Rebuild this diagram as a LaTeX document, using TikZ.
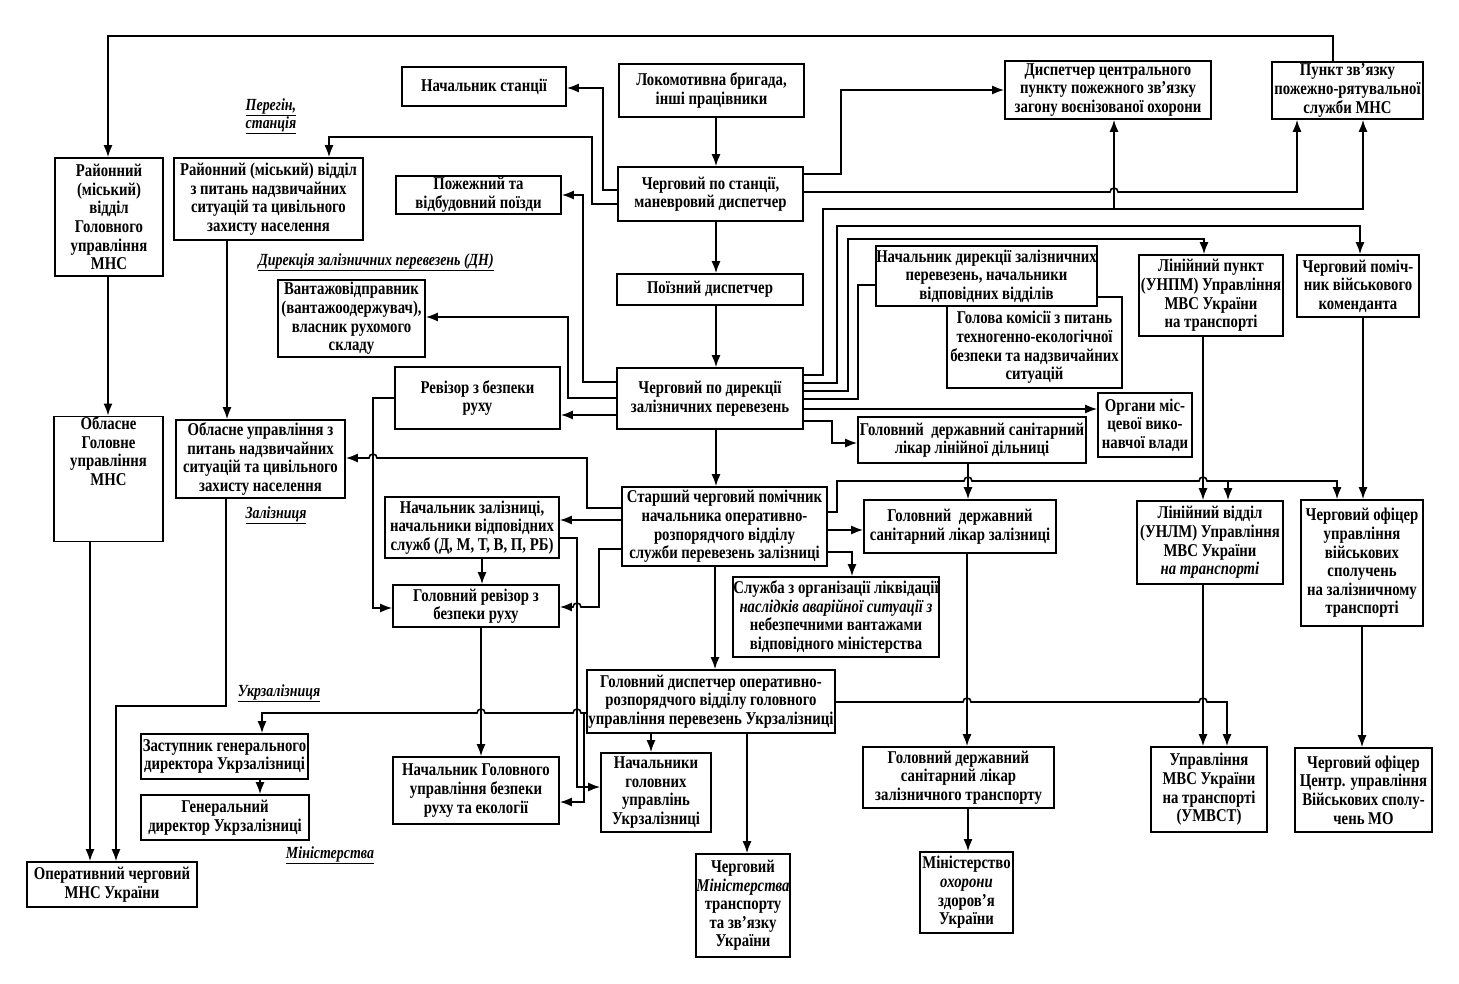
\documentclass[tikz,border=0pt]{standalone}
\usepackage{fontspec}
\setmainfont{Liberation Serif}[FakeStretch=0.82]
\usetikzlibrary{arrows.meta}
\begin{document}
\begin{tikzpicture}[x=1pt,y=-1pt,
 box/.style={draw, line width=1.7pt, fill=white, align=center, inner sep=0.5pt, font=\fontsize{18}{18.6}\selectfont\bfseries},
 txt/.style={align=center, inner sep=0.5pt, font=\fontsize{18}{18.6}\selectfont\bfseries},
 arr/.style={line width=1.6pt, -{Latex[length=12pt,width=9pt]}},
 ln/.style={line width=1.6pt},
 lbl/.style={align=left, inner sep=0pt, font=\fontsize{17}{18}\selectfont\itshape\bfseries}]
\useasboundingbox[fill=white] (0,0) rectangle (1459,984);
\def\hr{4pt}
% ---------- nodes ----------
\node[box, minimum width=164pt, minimum height=39pt] (nachst) at (484,86.5) {Начальник станції};
\node[box, minimum width=185pt, minimum height=53pt] (lokom) at (711.5,90.5) {Локомотивна бригада,\\інші працівники};
\node[box, minimum width=206pt, minimum height=58pt] (disp) at (1108,90) {Диспетчер центрального\\пункту пожежного зв’язку\\загону воєнізованої охорони};
\node[box, minimum width=151pt, minimum height=57pt] (punkt) at (1347.5,90.5) {Пункт зв’язку\\пожежно-рятувальної\\служби МНС};
\node[box, minimum width=108pt, minimum height=118pt] (raimns) at (109,217) {Районний\\(міський)\\відділ\\Головного\\управління\\МНС};
\node[box, minimum width=189pt, minimum height=82pt] (raipit) at (268.5,199) {Районний (міський) відділ\\з питань надзвичайних\\ситуацій та цивільного\\захисту населення};
\node[box, minimum width=165pt, minimum height=38pt] (pozh) at (478.5,195) {Пожежний та\\відбудовний поїзди};
\node[box, minimum width=185pt, minimum height=54pt] (cherst) at (710.5,194) {Черговий по станції,\\маневровий диспетчер};
\node[box, minimum width=186pt, minimum height=31pt] (poizd) at (710,289.5) {Поїзний диспетчер};
\node[box, minimum width=147pt, minimum height=77pt] (vant) at (351.5,318.5) {Вантажовідправник\\(вантажоодержувач),\\власник рухомого\\складу};
\node[box, minimum width=165pt, minimum height=62pt] (reviz) at (477.5,398) {Ревізор з безпеки\\руху};
\node[box, minimum width=186pt, minimum height=61pt] (cherdir) at (710,398.5) {Черговий по дирекції\\залізничних перевезень};
\node[box, minimum width=175pt, minimum height=91pt] (golkom) at (1034.5,342.5) {};
\node[txt, yshift=-5pt] at (golkom) {Голова комісії з питань\\техногенно-екологічної\\безпеки та надзвичайних\\ситуацій};
\node[box, minimum width=219pt, minimum height=60pt] (nachdir) at (986.5,276) {Начальник дирекції залізничних\\перевезень, начальники\\відповідних відділів};
\node[box, minimum width=144pt, minimum height=81pt] (linpunkt) at (1211,295.5) {Лінійний пункт\\(УНПМ) Управління\\МВС України\\на транспорті};
\node[box, minimum width=122pt, minimum height=62pt] (komend) at (1358,286) {Черговий поміч-\\ник військового\\коменданта};
\node[box, minimum width=94pt, minimum height=64pt] (organy) at (1145,425) {Органи міс-\\цевої вико-\\навчої влади};
\node[box, minimum width=228pt, minimum height=46pt] (likarlin) at (972,440) {Головний\ \ державний санітарний\\лікар лінійної дільниці};
\node[box, minimum width=109pt, minimum height=118pt] (oblmns) at (108.5,479) {Обласне\\Головне\\управління\\МНС\\[37pt]};
\node[box, minimum width=169pt, minimum height=78pt] (oblupr) at (260.5,459) {Обласне управління з\\питань надзвичайних\\ситуацій та цивільного\\захисту населення};
\node[box, minimum width=174pt, minimum height=61pt] (nachzal) at (472,527.5) {Начальник залізниці,\\начальники відповідних\\служб (Д, М, Т, В, П, РБ)};
\node[box, minimum width=205pt, minimum height=79pt] (starsh) at (724.5,526.5) {Старший черговий помічник\\начальника оперативно-\\розпорядчого відділу\\служби перевезень залізниці};
\node[box, minimum width=192pt, minimum height=53pt] (likarzal) at (960,526.5) {Головний\ \ державний\\санітарний лікар залізниці};
\node[box, minimum width=204pt, minimum height=80pt] (sluzhba) at (836,617) {Служба з організації ліквідації\\\textit{наслідків аварійної ситуації з}\\небезпечними вантажами\\відповідного міністерства};
\node[box, minimum width=166pt, minimum height=42pt] (golrev) at (476,606) {Головний ревізор з\\безпеки руху};
\node[box, minimum width=146pt, minimum height=83pt] (linviddil) at (1210,542.5) {Лінійний відділ\\(УНЛМ) Управління\\МВС України\\\textit{на транспорті}};
\node[box, minimum width=122pt, minimum height=126pt] (ofitser) at (1362,563) {Черговий офіцер\\управління\\військових\\сполучень\\на залізничному\\транспорті};
\node[box, minimum width=248pt, minimum height=63pt] (goldisp) at (711,701.5) {Головний диспетчер оперативно-\\розпорядчого відділу головного\\управління перевезень Укрзалізниці};
\node[box, minimum width=167pt, minimum height=45pt] (zast) at (224.5,756.5) {Заступник генерального\\директора Укрзалізниці};
\node[box, minimum width=168pt, minimum height=45pt] (gendir) at (225,817.5) {Генеральний\\директор Укрзалізниці};
\node[box, minimum width=170pt, minimum height=45pt] (opmns) at (112,884.5) {Оперативний черговий\\МНС України};
\node[box, minimum width=166pt, minimum height=67pt] (nachbez) at (476,790.5) {Начальник Головного\\управління безпеки\\руху та екології};
\node[box, minimum width=110pt, minimum height=79pt] (nachgol) at (656,792.5) {Начальники\\головних\\управлінь\\Укрзалізниці};
\node[box, minimum width=94pt, minimum height=103pt] (chermin) at (743,905.5) {Черговий\\\textit{Міністерства}\\транспорту\\та зв’язку\\України};
\node[box, minimum width=191pt, minimum height=61pt] (likartr) at (958.5,777.5) {Головний державний\\санітарний лікар\\залізничного транспорту};
\node[box, minimum width=93pt, minimum height=81pt] (moz) at (966.5,892.5) {Міністерство\\\textit{охорони}\\здоров’я\\України};
\node[box, minimum width=116pt, minimum height=85pt] (umvst) at (1209,789.5) {Управління\\МВС України\\на транспорті\\(УМВСТ)};
\node[box, minimum width=137pt, minimum height=84pt] (ofcentr) at (1363.5,790) {Черговий офіцер\\Центр. управління\\Військових сполу-\\чень МО};
% ---------- labels ----------
\node[lbl] (lperegin) at (271,116) {\underline{Перегін,}\\\underline{станція}};
\node[lbl] (ldn) at (376,262) {\underline{Дирекція залізничних перевезень (ДН)}};
\node[lbl] (lzal) at (276,515) {\underline{Залізниця}};
\node[lbl] (lukr) at (279,693) {\underline{Укрзалізниця}};
\node[lbl] (lmin) at (330,855) {\underline{Міністерства}};
% ---------- connectors ----------
\draw[arr] (1333,0 |- punkt.north) -- (1333,36) -- (108,36) -- (108,0 |- raimns.north);
\draw[arr] (716,0 |- lokom.south) -- (716,0 |- cherst.north);
\draw[arr] (716,0 |- cherst.south) -- (716,0 |- poizd.north);
\draw[arr] (716,0 |- poizd.south) -- (716,0 |- cherdir.north);
\draw[arr] (716,0 |- cherdir.south) -- (716,0 |- starsh.north);
\draw[arr] (715,0 |- starsh.south) -- (715,0 |- goldisp.north);
\draw[arr] (cherst.west |- 0,190) -- (603,190) -- (603,88) -- (nachst.east |- 0,88);
\draw[arr] (cherst.west |- 0,204) -- (592,204) -- (592,137) -- (329,137) -- (329,0 |- raipit.north);
\draw[arr] (cherst.east |- 0,174) -- (841,174) -- (841,90) -- (disp.west |- 0,90);
\draw[arr] (cherst.east |- 0,192) -- (1110,192) arc[start angle=180,end angle=0,radius=\hr] -- (1297,192) -- (1297,0 |- punkt.south);
\draw[arr] (cherdir.east |- 0,375) -- (823,375) -- (823,209) -- (1363,209) -- (1363,0 |- punkt.south);
\draw[arr] (1114,209) -- (1114,0 |- disp.south);
\draw[arr] (cherdir.east |- 0,383) -- (837,383) -- (837,226) -- (1360,226) -- (1360,0 |- komend.north);
\draw[arr] (cherdir.east |- 0,391) -- (848,391) -- (848,239) -- (1204,239) -- (1204,0 |- linpunkt.north);
\draw[ln] (cherdir.east |- 0,399) -- (858,399) -- (858,285) -- (nachdir.west |- 0,285);
\draw[arr] (cherdir.east |- 0,409) -- (organy.west |- 0,409);
\draw[arr] (cherdir.east |- 0,421) -- (832,421) -- (832,443) -- (likarlin.west |- 0,443);
\draw[arr] (cherdir.west |- 0,382) -- (583,382) -- (583,195) -- (pozh.east |- 0,195);
\draw[arr] (cherdir.west |- 0,398) -- (568,398) -- (568,317) -- (vant.east |- 0,317);
\draw[arr] (cherdir.west |- 0,415) -- (reviz.east |- 0,415);
\draw[arr] (reviz.west |- 0,398) -- (373,398) -- (373,608) -- (golrev.west |- 0,608);
\draw[arr] (starsh.west |- 0,508) -- (587,508) -- (587,458) -- (377,458) arc[start angle=0,end angle=180,radius=\hr] -- (oblupr.east |- 0,458);
\draw[arr] (starsh.west |- 0,520) -- (nachzal.east |- 0,520);
\draw[arr] (starsh.west |- 0,549) -- (599,549) -- (599,607) -- (581,607) arc[start angle=0,end angle=180,radius=\hr] -- (golrev.east |- 0,607);
\draw[arr] (starsh.east |- 0,530) -- (likarzal.west |- 0,530);
\draw[arr] (starsh.east |- 0,552) -- (852,552) -- (852,0 |- sluzhba.north);
\draw[arr] (starsh.east |- 0,512) -- (837,512) -- (837,481) -- (964,481) arc[start angle=180,end angle=0,radius=\hr] -- (1199,481) arc[start angle=180,end angle=0,radius=\hr] -- (1337,481) -- (1337,0 |- ofitser.north);
\draw[arr] (1228,481) -- (1228,0 |- linviddil.north);
\draw[arr] (968,0 |- likarlin.south) -- (968,0 |- likarzal.north);
\draw[arr] (1203,0 |- linpunkt.south) -- (1203,0 |- linviddil.north);
\draw[arr] (1363,0 |- komend.south) -- (1363,0 |- ofitser.north);
\draw[arr] (1203,0 |- linviddil.south) -- (1203,0 |- umvst.north);
\draw[arr] (goldisp.east |- 0,702) -- (963,702) arc[start angle=180,end angle=0,radius=\hr] -- (1199,702) arc[start angle=180,end angle=0,radius=\hr] -- (1227,702) -- (1227,0 |- umvst.north);
\draw[arr] (967,0 |- likarzal.south) -- (967,0 |- likartr.north);
\draw[arr] (968,0 |- likartr.south) -- (968,0 |- moz.north);
\draw[arr] (1362,0 |- ofitser.south) -- (1362,0 |- ofcentr.north);
\draw[arr] (651,0 |- goldisp.south) -- (651,0 |- nachgol.north);
\draw[arr] (747,0 |- goldisp.south) -- (747,0 |- chermin.north);
\draw[arr] (260,0 |- zast.south) -- (260,0 |- gendir.north);
\draw[arr] (108,0 |- raimns.south) -- (108,0 |- oblmns.north);
\draw[arr] (90,0 |- oblmns.south) -- (90,0 |- opmns.north);
\draw[arr] (227,0 |- raipit.south) -- (227,0 |- oblupr.north);
\draw[arr] (226,0 |- oblupr.south) -- (226,706) -- (116,706) -- (116,0 |- opmns.north);
\draw[arr] (482,0 |- nachzal.south) -- (482,0 |- golrev.north);
\draw[arr] (481,0 |- golrev.south) -- (481,0 |- nachbez.north);
\draw[arr] (nachzal.east |- 0,538) -- (577,538) -- (577,787) -- (nachgol.west |- 0,787);
\draw[arr] (goldisp.west |- 0,713) -- (581,713) arc[start angle=0,end angle=180,radius=\hr] -- (485,713) arc[start angle=0,end angle=180,radius=\hr] -- (262,713) -- (262,0 |- zast.north);
\draw[arr] (584,713) -- (584,802) -- (nachbez.east |- 0,802);
\end{tikzpicture}
\end{document}
